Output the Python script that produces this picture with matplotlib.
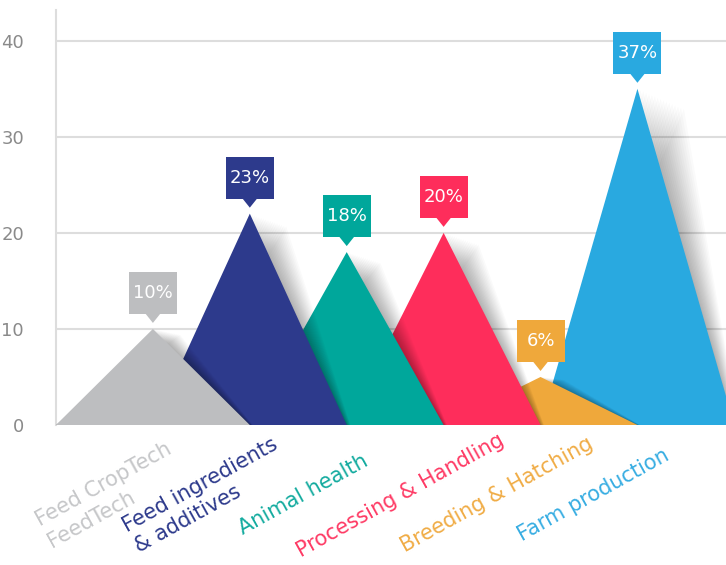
import matplotlib
matplotlib.use("Agg")
import matplotlib.pyplot as plt
import matplotlib.transforms as mtransforms
from matplotlib.patches import Polygon, Rectangle

# data
categories = ["Feed CropTech\nFeedTech", "Feed ingredients\n& additives", "Animal health",
              "Processing & Handling", "Breeding & Hatching", "Farm production"]
peak_values = [10, 22, 18, 20, 5, 35]
value_labels = ["10%", "23%", "18%", "20%", "6%", "37%"]
y_ticks = [0, 10, 20, 30, 40]

colors = ["#BDBEC0", "#2D3A8C", "#00A79B", "#FE2D5B", "#EFA83B", "#29A9E0"]
label_colors = ["#C6C7C9", "#2D3A8C", "#13AB9F", "#FE3A64", "#F0AC45", "#37ADE2"]

number_font = ["Liberation Sans Narrow", "DejaVu Sans"]

fig = plt.figure(figsize=(7.26, 5.65), dpi=100)
ax = fig.add_axes([56 / 726, 140 / 565, 670 / 726, 415 / 565])
ax.set_xlim(-1, 5.914)
ax.set_ylim(0, 43.2)

# grid + axis styling
ax.set_yticks(y_ticks)
ax.set_xticks([])
ax.yaxis.grid(True, color="#DDDDDD", linewidth=1.5)
ax.set_axisbelow(True)
ax.tick_params(axis="y", length=0, pad=23, labelcolor="#8A8A8A", labelsize=13)
for lab in ax.get_yticklabels():
    lab.set_family(number_font)
for side in ["top", "right", "bottom"]:
    ax.spines[side].set_visible(False)
ax.spines["left"].set_color("#DDDDDD")
ax.spines["left"].set_linewidth(1.5)

# triangles, drawn right to left so the left ones sit in front,
# each with a soft shadow falling to the right
n_layers = 16
for i in reversed(range(len(peak_values))):
    v = peak_values[i]
    z = 20 - 2 * i
    dmax = 0.2 + 0.008 * v
    for k in range(n_layers):
        frac = (k + 1) / n_layers
        d = dmax * frac
        shadow = Polygon([(i - 1, 0), (i + d, v * (1 - 0.06 * frac)), (i + 1 + 0.1 * d, 0)],
                         closed=True, facecolor="black", edgecolor="none",
                         alpha=0.02, zorder=z - 1)
        ax.add_patch(shadow)
    tri = Polygon([(i - 1, 0), (i, v), (i + 1, 0)], closed=True,
                  facecolor=colors[i], edgecolor="none", zorder=z)
    ax.add_patch(tri)

# value bubbles (sizes in pixels, anchored at each peak)
box_w, box_h, gap, ptr_h, ptr_w = 48, 42, 6, 9, 8
for i, v in enumerate(peak_values):
    trans = mtransforms.IdentityTransform() + mtransforms.ScaledTranslation(i, v, ax.transData)
    rect = Rectangle((-box_w / 2, gap + ptr_h), box_w, box_h, facecolor=colors[i],
                     edgecolor="none", transform=trans, zorder=30, clip_on=False)
    ax.add_patch(rect)
    ptr = Polygon([(-ptr_w, gap + ptr_h + 1), (ptr_w, gap + ptr_h + 1), (0, gap)], closed=True,
                  facecolor=colors[i], edgecolor="none", transform=trans, zorder=30, clip_on=False)
    ax.add_patch(ptr)
    ax.text(0, gap + ptr_h + box_h / 2, value_labels[i], transform=trans, color="white",
            fontsize=13, family=number_font, ha="center", va="center", zorder=31)

# rotated category labels under the baseline
for i, name in enumerate(categories):
    ax.text(i - 0.45, -7.3, name, color=label_colors[i], fontsize=15,
            rotation=29, rotation_mode="anchor", ha="center", va="center",
            multialignment="left", linespacing=1.25, clip_on=False)

fig.savefig("out.png", dpi=100)
